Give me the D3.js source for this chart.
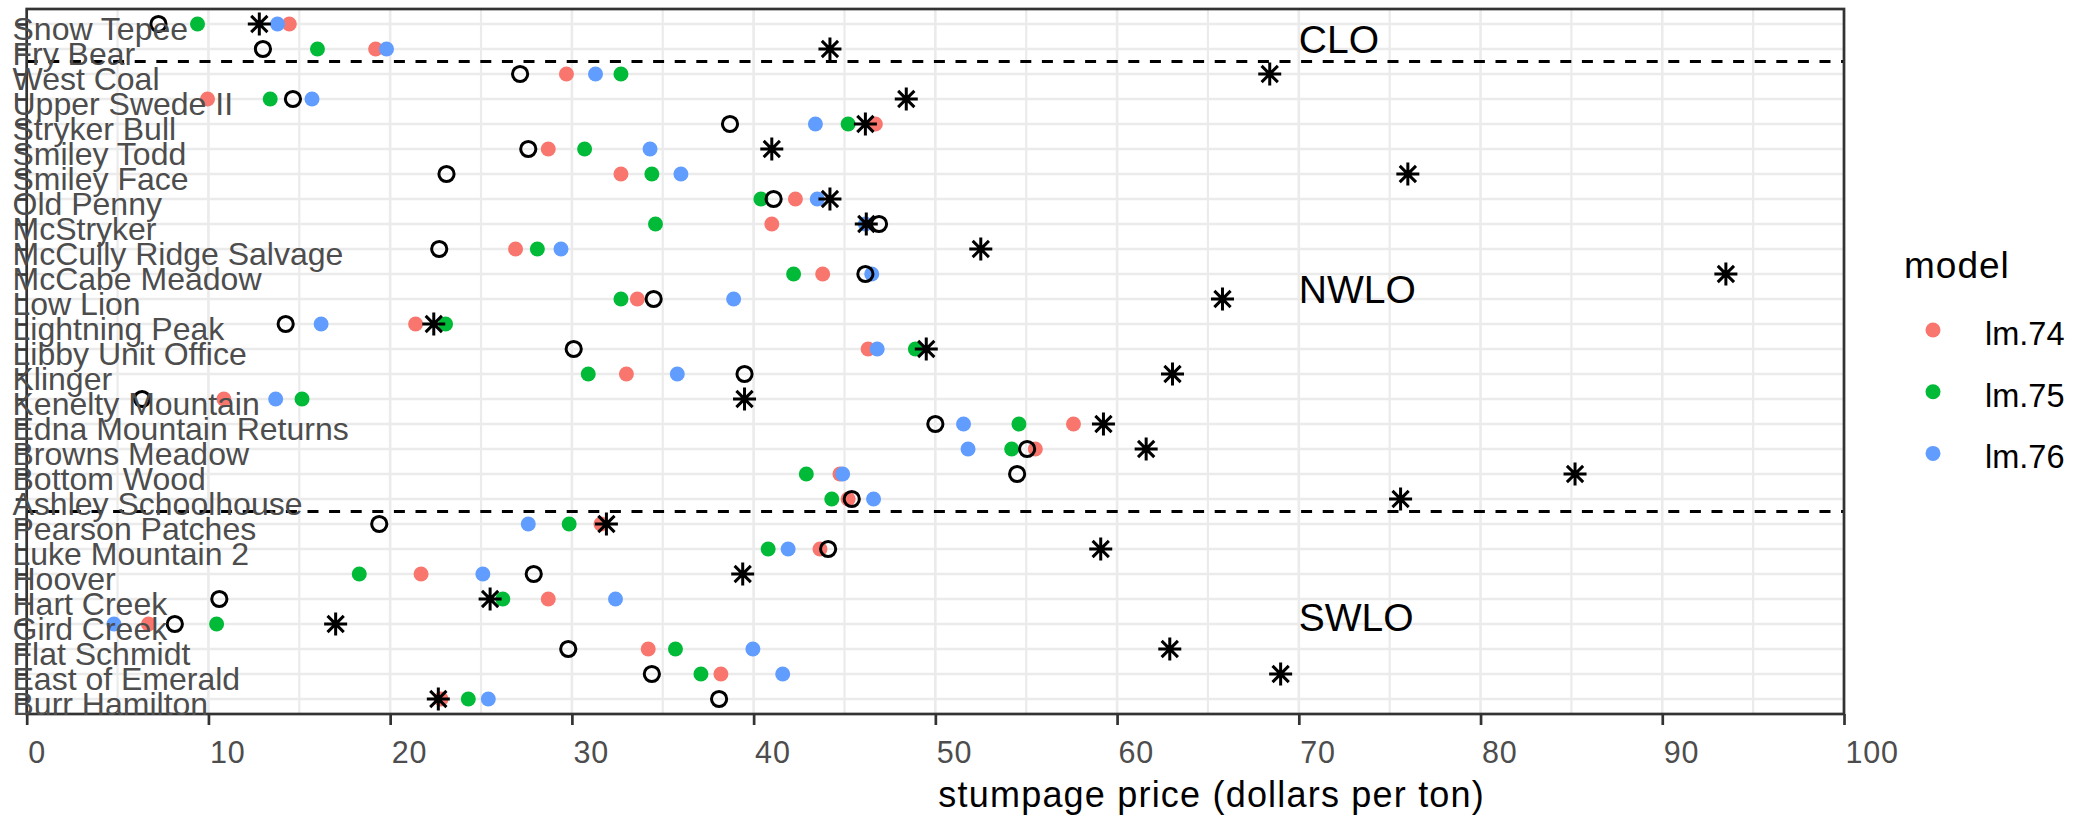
<!DOCTYPE html>
<html><head><meta charset="utf-8">
<script src="https://cdn.jsdelivr.net/npm/d3@7"></script>
<style>body{margin:0;background:#fff} svg{display:block}</style>
</head><body>
<svg id="chart" width="2093" height="818"></svg>
<script>
// ---------------- data ----------------
const sites = ["Snow Tepee","Fry Bear","West Coal","Upper Swede II","Stryker Bull","Smiley Todd","Smiley Face","Old Penny","McStryker","McCully Ridge Salvage","McCabe Meadow","Low Lion","Lightning Peak","Libby Unit Office","Klinger","Kenelty Mountain","Edna Mountain Returns","Browns Meadow","Bottom Wood","Ashley Schoolhouse","Pearson Patches","Luke Mountain 2","Hoover","Hart Creek","Gird Creek","Flat Schmidt","East of Emerald","Burr Hamilton"];
const lm74 = [14.45,19.2,29.7,9.95,46.7,28.7,32.7,42.3,41.0,26.9,43.8,33.6,21.4,46.3,33.0,10.85,57.6,55.5,44.75,45.2,31.6,43.65,21.7,28.7,6.7,34.2,38.2,22.8];
const lm75 = [9.4,16.0,32.7,13.4,45.2,30.7,34.4,40.4,34.6,28.1,42.2,32.7,23.05,48.9,30.9,15.15,54.6,54.2,42.9,44.3,29.85,40.8,18.3,26.2,10.45,35.7,37.1,24.3];
const lm76 = [13.8,19.8,31.3,15.7,43.4,34.3,36.0,43.5,46.15,29.4,46.5,38.9,16.2,46.8,35.8,13.7,51.55,51.8,44.9,46.6,27.6,41.9,25.1,32.4,4.8,39.96,41.6,25.4];
const circleValues = [7.25,13.0,27.15,14.65,38.7,27.6,23.1,41.1,46.9,22.7,46.15,34.5,14.25,30.1,39.5,6.35,50.0,55.05,54.5,45.4,19.4,44.1,27.9,10.6,8.15,29.8,34.4,38.1];
const starValues = [12.8,44.2,68.4,48.4,46.15,41.0,76.0,44.2,46.2,52.5,93.5,65.8,22.4,49.5,63.05,39.5,59.25,61.6,85.2,75.6,31.9,59.1,39.4,25.5,17.0,62.9,69.0,22.65];
const modelNames = ["lm.74","lm.75","lm.76"];
const modelSeries = [lm74, lm75, lm76];
const modelColors = ["#F8766D","#00BA38","#619CFF"];
const xTicks = [0,10,20,30,40,50,60,70,80,90,100];
const xMinorTicks = [5,15,25,35,45,55,65,75,85,95];
const dividers = [["Fry Bear","West Coal"],["Ashley Schoolhouse","Pearson Patches"]];
const regionNames = ["CLO","NWLO","SWLO"];
const regionX = [70,70,70];
const regionY = [27.4,17.4,4.3]; // row units counted from the bottom row (1)
const xTitle = "stumpage price (dollars per ton)";
const legendTitle = "model";

// ---------------- layout ----------------
const P = {left:26.7, right:1844, top:9, bottom:714};
const FONT = "'Liberation Sans', Arial, Helvetica, sans-serif";
const svg = d3.select("#chart").style("font-family", FONT);

const x = d3.scaleLinear().domain([0,100]).range([P.left, P.right]);
const y = d3.scalePoint().domain(sites).range([P.top, P.bottom]).padding(0.6);
const yNum = d3.scaleLinear().domain([0.4, sites.length + 0.6]).range([P.bottom, P.top]);

svg.append("rect").attr("width",2093).attr("height",818).attr("fill","#fff");

// grid
const grid = svg.append("g");
grid.selectAll(".hg").data(sites).join("line")
  .attr("x1",P.left).attr("x2",P.right)
  .attr("y1",d=>y(d)).attr("y2",d=>y(d))
  .attr("stroke","#EBEBEB").attr("stroke-width",2.6);
grid.selectAll(".vmin").data(xMinorTicks).join("line")
  .attr("x1",d=>x(d)).attr("x2",d=>x(d))
  .attr("y1",P.top).attr("y2",P.bottom)
  .attr("stroke","#EBEBEB").attr("stroke-width",2.2);
grid.selectAll(".vmaj").data(xTicks).join("line")
  .attr("x1",d=>x(d)).attr("x2",d=>x(d))
  .attr("y1",P.top).attr("y2",P.bottom)
  .attr("stroke","#EBEBEB").attr("stroke-width",2.6);

// dashed dividers
svg.append("g").selectAll("line").data(dividers).join("line")
  .attr("x1",P.left).attr("x2",P.right)
  .attr("y1",d=>(y(d[0])+y(d[1]))/2).attr("y2",d=>(y(d[0])+y(d[1]))/2)
  .attr("stroke","#000").attr("stroke-width",2.8).attr("stroke-dasharray","11,10.6");

// model dots
const pts = svg.append("g");
modelSeries.forEach((vals, m) => {
  pts.append("g").selectAll("circle").data(sites).join("circle")
    .attr("cx",(d,i)=>x(vals[i])).attr("cy",d=>y(d)).attr("r",7.5)
    .attr("fill",modelColors[m]);
});
// open circles
pts.append("g").selectAll("circle").data(sites).join("circle")
  .attr("cx",(d,i)=>x(circleValues[i])).attr("cy",d=>y(d)).attr("r",7.6)
  .attr("fill","none").attr("stroke","#000").attr("stroke-width",3);
// asterisks
const a = 11.5, b = a/Math.SQRT2;
const starPath = `M0,${-a}V${a}M${-a},0H${a}M${-b},${-b}L${b},${b}M${-b},${b}L${b},${-b}`;
pts.append("g").selectAll("path").data(sites).join("path")
  .attr("transform",(d,i)=>`translate(${x(starValues[i])},${y(d)})`)
  .attr("d",starPath).attr("fill","none").attr("stroke","#000").attr("stroke-width",3);

// region labels
svg.append("g").selectAll("text").data(regionNames).join("text")
  .attr("x",(d,i)=>x(regionX[i])).attr("y",(d,i)=>yNum(regionY[i]) + 14)
  .attr("font-size",39).attr("fill","#000").text(d=>d);

// panel border
svg.append("rect").attr("x",P.left).attr("y",P.top)
  .attr("width",P.right-P.left).attr("height",P.bottom-P.top)
  .attr("fill","none").attr("stroke","#333333").attr("stroke-width",2.7);

// x axis
const gx = svg.append("g").attr("transform",`translate(0,${P.bottom})`)
  .call(d3.axisBottom(x).tickValues(xTicks).tickSize(11).tickFormat(d3.format("d")));
gx.select(".domain").remove();
gx.selectAll(".tick line").attr("stroke","#333333").attr("stroke-width",2.7);
gx.selectAll(".tick text").attr("text-anchor","start").attr("x",1).attr("y",49).attr("dy",null)
  .attr("font-size",30.5).attr("fill","#4D4D4D").attr("letter-spacing",0.8).style("font-family",FONT);

// y axis
const gy = svg.append("g").attr("transform",`translate(${P.left},0)`)
  .call(d3.axisLeft(y).tickSize(11));
gy.select(".domain").remove();
gy.selectAll(".tick line").attr("stroke","#333333").attr("stroke-width",2.7);
gy.selectAll(".tick text").attr("text-anchor","start").attr("x",12.5-P.left).attr("y",15).attr("dy",null)
  .attr("font-size",32).attr("fill","#4D4D4D").style("font-family",FONT);

// x title
svg.append("text").attr("x",(P.left+P.right)/2 + 3).attr("y",807)
  .attr("font-size",36).attr("letter-spacing",1.2).attr("fill","#000").text(xTitle);

// legend
const lg = svg.append("g");
lg.append("text").attr("x",1904).attr("y",278).attr("font-size",37).attr("letter-spacing",1)
  .attr("fill","#000").text(legendTitle);
const items = lg.selectAll(".item").data(modelNames).join("g")
  .attr("transform",(d,i)=>`translate(0,${330 + i*61.7})`);
items.append("circle").attr("cx",1933).attr("cy",0).attr("r",7.5).attr("fill",(d,i)=>modelColors[i]);
items.append("text").attr("x",1985).attr("y",15).attr("font-size",32.5).attr("fill","#000").text(d=>d);
</script>
</body></html>
